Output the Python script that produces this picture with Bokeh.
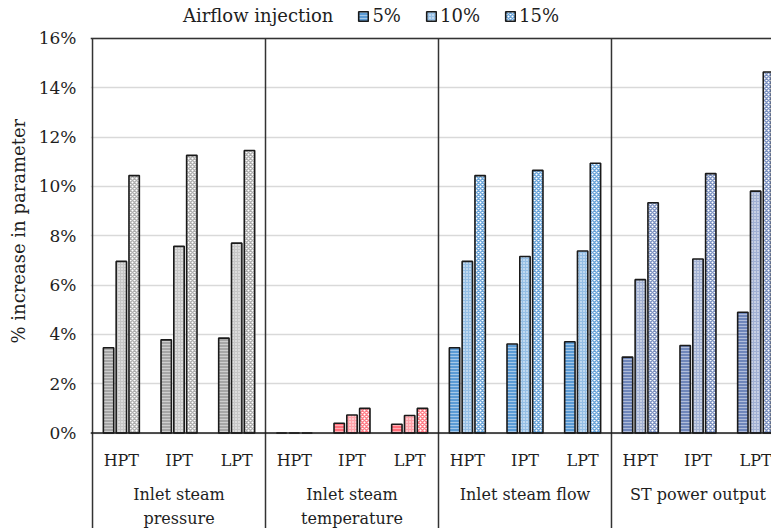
import math
from bokeh.plotting import figure
from bokeh.models import (ColumnDataSource, Range1d, FixedTicker, PrintfTickFormatter,
                          Span, Legend, LegendItem, Title)
from bokeh.core.properties import value
from bokeh.embed import file_html
from bokeh.resources import INLINE

# ---------------- data ----------------
groups = ["Inlet steam\npressure", "Inlet steam\ntemperature", "Inlet steam flow", "ST power output"]
turbines = ["HPT", "IPT", "LPT"]
series_names = ["5%", "10%", "15%"]
inj_5 = [3.46, 3.78, 3.85, 0.00, 0.40, 0.36, 3.46, 3.61, 3.70, 3.08, 3.55, 4.90]
inj_10 = [6.96, 7.57, 7.70, 0.00, 0.73, 0.71, 6.96, 7.16, 7.38, 6.22, 7.06, 9.81]
inj_15 = [10.44, 11.26, 11.46, 0.00, 1.00, 1.00, 10.44, 10.65, 10.94, 9.34, 10.52, 14.64]
y_ticks = [0, 2, 4, 6, 8, 10, 12, 14, 16]

group_colors = ["#a6a6a6", "#ff6f7a", "#5b9bd5", "#6f86ba"]
FONT = "DejaVu Serif"
TXT = "#1e1e1e"

Y_MIN, Y_MAX = 0, 16            # value range
Y_BOTTOM, Y_TOP = -3.87, 17.54  # frame range incl. label table and legend strip


def mix(hex_color, t):
    h = hex_color.lstrip("#")
    r, g, b = (int(h[i:i + 2], 16) for i in (0, 2, 4))
    r = round(r + (255 - r) * t)
    g = round(g + (255 - g) * t)
    b = round(b + (255 - b) * t)
    return "#%02x%02x%02x" % (r, g, b)


n_sub = len(turbines)
n_all = len(groups) * n_sub

p = figure(width=771, height=528, output_backend="svg", toolbar_location=None,
           x_range=Range1d(-0.035, 11.775), y_range=Range1d(Y_BOTTOM, Y_TOP),
           x_axis_location=None, min_border_left=90, min_border_right=0,
           min_border_top=0, min_border_bottom=0, outline_line_color=None,
           background_fill_color="white", border_fill_color="white")

# grid / axis
p.xgrid.grid_line_color = None
p.ygrid.ticker = FixedTicker(ticks=y_ticks)
p.ygrid.grid_line_color = "#d9d9d9"
p.ygrid.grid_line_width = 1.5
ax = p.yaxis[0]
ax.bounds = (Y_MIN, Y_MAX)
ax.ticker = FixedTicker(ticks=y_ticks)
ax.formatter = PrintfTickFormatter(format="%d%%")
ax.major_tick_line_color = None
ax.minor_tick_line_color = None
ax.major_tick_out = 0
ax.major_tick_in = 0
ax.minor_tick_out = 0
ax.minor_tick_in = 0
ax.axis_label_standoff = 0
ax.axis_line_color = None
ax.major_label_text_font = FONT
ax.major_label_text_font_size = "17px"
ax.major_label_text_color = TXT
ax.major_label_standoff = 14

# y-axis title (as a left-side title so it can be centred on the 0-16 % span)
p.add_layout(Title(text="% increase in parameter", align="left", offset=185,
                   vertical_align="middle", standoff=12,
                   text_font=FONT, text_font_size="18px", text_font_style="normal",
                   text_color=TXT), "left")

# bars
offsets = [-0.222, 0.0, 0.222]
values = [inj_5, inj_10, inj_15]
renderers = []
for s, (vals, off) in enumerate(zip(values, offsets)):
    xs = [i + 0.5 + off for i in range(n_all)]
    base = [group_colors[i // n_sub] for i in range(n_all)]
    if s == 0:
        fill = base
        hatch = [mix(c, 0.45) for c in base]
        pattern, scale, weight = "horizontal_line", 3.0, 1.0
    elif s == 1:
        fill = [mix(c, 0.35) for c in base]
        hatch = ["#ffffff"] * n_all
        pattern, scale, weight = "dot", 3.0, 1.0
    else:
        fill = ["#ffffff"] * n_all
        hatch = [mix(c, 0.1) for c in base]
        pattern, scale, weight = "diagonal_cross", 4.0, 1.5
    src = ColumnDataSource(dict(x=xs, top=vals, fill=fill, hatch=hatch))
    r = p.vbar(x="x", top="top", bottom=0, width=0.18, source=src,
               fill_color="fill", hatch_color="hatch", hatch_pattern=pattern,
               hatch_scale=scale, hatch_weight=weight,
               line_color="#1a1a1a", line_width=1.6)
    renderers.append(r)

# frame / divider lines
p.add_layout(Span(location=0, dimension="width", line_color="#1a1a1a", line_width=1.5))
p.add_layout(Span(location=Y_MAX, dimension="width", line_color="#333333", line_width=1.5))
div_x = [g * n_sub for g in range(len(groups))]
p.segment(x0=div_x, y0=[Y_BOTTOM] * len(div_x), x1=div_x, y1=[Y_MAX] * len(div_x),
          line_color="#333333", line_width=1.5)

# category labels (table below the axis)
sub_src = ColumnDataSource(dict(x=[i + 0.5 for i in range(n_all)],
                                y=[-1.11] * n_all,
                                t=[turbines[i % n_sub] for i in range(n_all)]))
p.text(x="x", y="y", text="t", source=sub_src, text_font=value(FONT),
       text_font_size="16px", text_color=TXT, text_align="center", text_baseline="middle")
gx, gy, gt = [], [], []
for g, name in enumerate(groups):
    for k, line in enumerate(name.split("\n")):
        gx.append(g * n_sub + n_sub / 2)
        gy.append([-2.49, -3.47][k])
        gt.append(line)
p.text(x=gx, y=gy, text=gt, text_font=value(FONT), text_font_size="16px",
       text_color=TXT, text_align="center", text_baseline="middle")

# legend (in the strip above the 16% line)
dummy = p.vbar(x=[], top=[], width=0.1, fill_alpha=0, line_alpha=0)
items = [LegendItem(label="Airflow injection", renderers=[dummy])]
for name, r in zip(series_names, renderers):
    items.append(LegendItem(label=name, renderers=[r], index=6))
legend = Legend(items=items, orientation="horizontal", location=(78, 502),
                label_text_font=FONT, label_text_font_size="18px", label_text_color=TXT,
                glyph_width=12, glyph_height=12, label_standoff=3, spacing=24,
                padding=0, margin=0, border_line_color=None, background_fill_alpha=0)
p.add_layout(legend)

open("out.html", "w").write(file_html(p, INLINE))
